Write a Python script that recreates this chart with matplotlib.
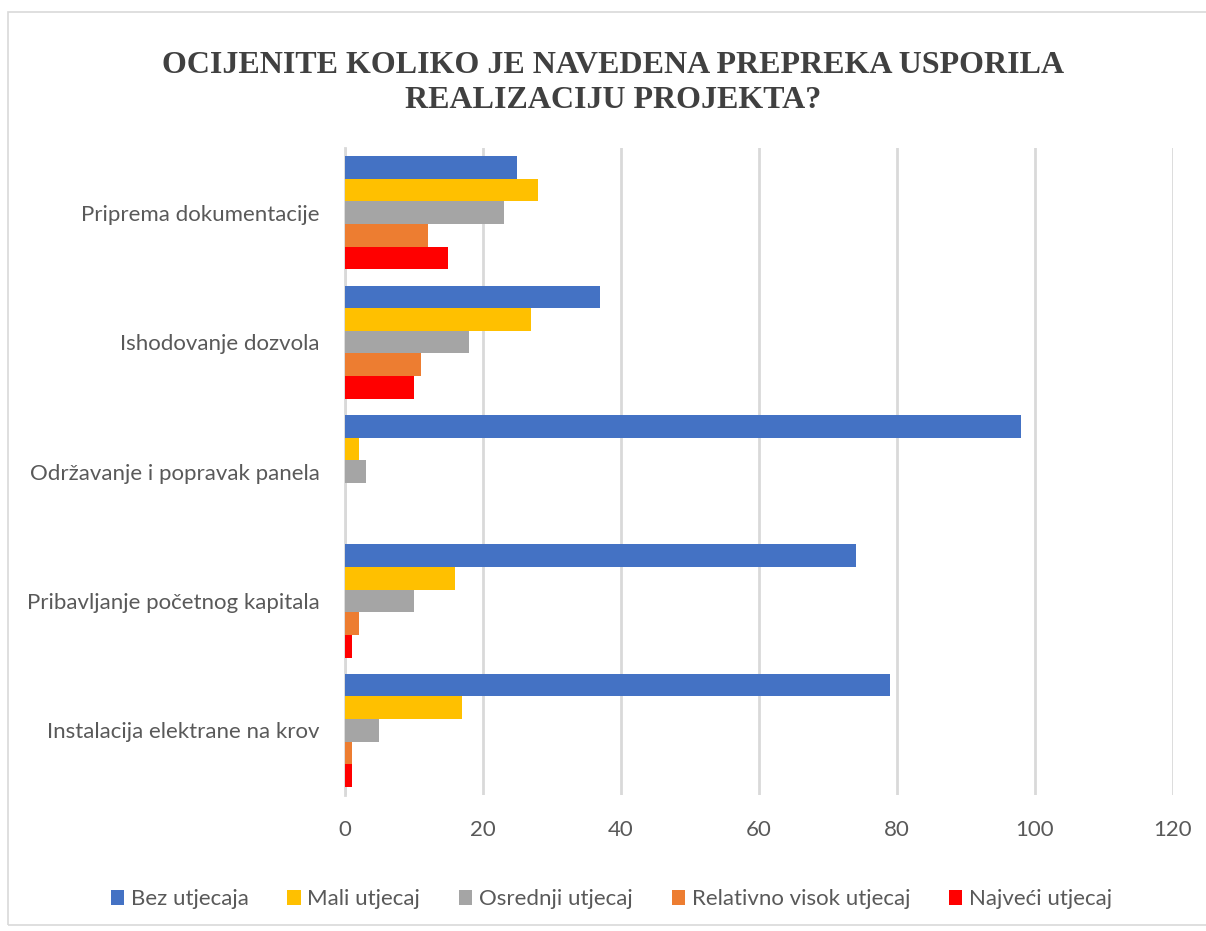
import numpy as np
import matplotlib.pyplot as plt
from matplotlib.patches import Rectangle

# categories, top to bottom as shown
categories = ['Priprema dokumentacije', 'Ishodovanje dozvola', 'Održavanje i popravak panela',
              'Pribavljanje početnog kapitala', 'Instalacija elektrane na krov']
series = ['Bez utjecaja', 'Mali utjecaj', 'Osrednji utjecaj', 'Relativno visok utjecaj', 'Najveći utjecaj']
bez = [25, 37, 98, 74, 79]
mali = [28, 27, 2, 16, 17]
osrednji = [23, 18, 3, 10, 5]
rel_visok = [12, 11, 0, 2, 1]
najveci = [15, 10, 0, 1, 1]
colors = ['#4472C4', '#FFC000', '#A5A5A5', '#ED7D31', '#FF0000']
xticks = [0, 20, 40, 60, 80, 100, 120]

txt = '#595959'
fig = plt.figure(figsize=(12.06, 9.31), dpi=100)
ax = fig.add_axes([0.286, 0.146, 0.6866, 0.695])

# chart border
fig.patches.append(Rectangle((8/1206, 6/931), 1.1, 913/931, transform=fig.transFigure,
                             fill=False, edgecolor='#d9d9d9', linewidth=1.2))

ind = np.arange(len(categories))
h = 0.175
for i, (vals, c, name) in enumerate(zip([bez, mali, osrednji, rel_visok, najveci], colors, series)):
    ax.barh(ind + (i - 2) * h, vals, h, color=c, label=name, zorder=3)

ax.set_ylim(len(categories) - 0.5, -0.5)
ax.set_xlim(0, 120)
ax.set_yticks(ind)
ax.set_yticklabels(categories, fontsize=16, color=txt, family='Lato')
ax.set_xticks(xticks)
ax.set_xticklabels([str(t) for t in xticks], fontsize=16, color=txt, family='Lato')
ax.tick_params(length=0)
ax.tick_params(axis='y', pad=18)
ax.tick_params(axis='x', pad=18)
ax.xaxis.grid(True, color='#d9d9d9', linewidth=2, zorder=0)
for s in ['top', 'right', 'bottom']:
    ax.spines[s].set_visible(False)
ax.spines['left'].set_color('#d9d9d9')
ax.spines['left'].set_linewidth(2)

fig.text(0.508, 0.911, 'OCIJENITE KOLIKO JE NAVEDENA PREPREKA USPORILA\nREALIZACIJU PROJEKTA?',
         ha='center', va='center', fontsize=23, fontweight='bold', color='#404040',
         family='Liberation Serif', linespacing=1.3)

fig.legend(loc='center', bbox_to_anchor=(0.507, 0.034), ncol=5, frameon=False,
           prop={'family': 'Lato', 'size': 16}, labelcolor=txt,
           handlelength=0.6, handleheight=0.6, handletextpad=0.3, columnspacing=1.75)

fig.savefig('out.png', dpi=100)
